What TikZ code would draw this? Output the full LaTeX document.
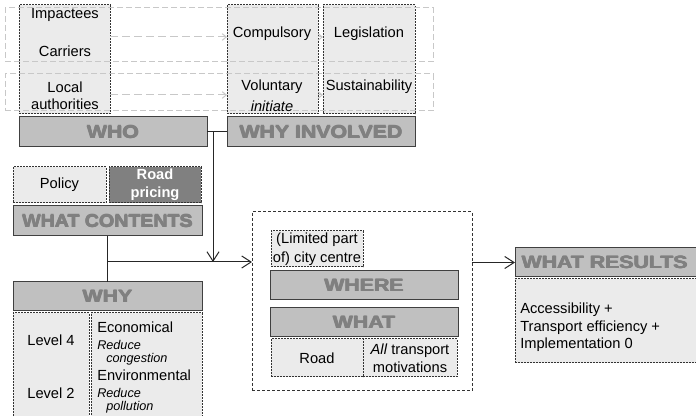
\documentclass[tikz,border=0pt]{standalone}
\usepackage{fontspec}
\setmainfont{Liberation Sans}
\newfontfamily\hdrfont[FakeStretch=1.2]{Liberation Sans}
\usetikzlibrary{arrows.meta}
\definecolor{lightfill}{HTML}{EBEBEB}
\definecolor{barfill}{HTML}{C0C0C0}
\definecolor{hdrtext}{HTML}{808080}
\definecolor{darkfill}{HTML}{808080}
\definecolor{edge}{HTML}{404040}
\definecolor{faint}{HTML}{C8C8C8}
\newcommand\heavy[1]{\leavevmode\rlap{\kern0.7pt#1}\rlap{\kern0.35pt#1}\rlap{\raisebox{0.35pt}{\kern0.35pt#1}}#1\kern0.7pt}
\tikzset{
 base/.style={inner sep=0pt, outer sep=0pt, line width=0.75pt},
 bar/.style={base, draw=edge, fill=barfill, text=hdrtext, font=\hdrfont\bfseries\fontsize{13.3}{15}\selectfont},
 hdrtxt/.style={inner sep=0pt, text=hdrtext, font=\hdrfont\bfseries\fontsize{13.3}{15}\selectfont},
 dbox/.style={base, draw=black!80, fill=lightfill, dash pattern=on 1.5pt off 0.75pt},
 pricebox/.style={dbox, fill=darkfill},
 rowbox/.style={base, draw=faint, dash pattern=on 4.5pt off 2.25pt},
 framebox/.style={base, draw=black!80, dash pattern=on 2.25pt off 1.5pt},
 txt/.style={inner sep=0pt, font=\fontsize{11}{13.5}\selectfont},
 sm/.style={inner sep=0pt, font=\fontsize{9.5}{11}\selectfont\itshape},
 conn/.style={line width=0.75pt, draw=black!85},
 arr/.style={conn, -{Straight Barb[length=7pt,width=9pt]}},
 farr/.style={line width=0.75pt, draw=faint, dash pattern=on 6pt off 3pt, -{Straight Barb[length=3pt,width=5pt]}},
}
\newcommand\bx[7]{\node[#6, anchor=north west, minimum width={(#4-#2)*0.75pt}, minimum height={(#5-#3)*0.75pt}] (#1) at (#2,#3) {#7};}
\begin{document}
\begin{tikzpicture}[x=0.75pt,y=-0.75pt]
\useasboundingbox (0,0) rectangle (696,416);
% WHO / WHY INVOLVED columns
\bx{whocol}{19}{5}{110}{114}{dbox}{}
\bx{compcol}{227}{5}{318}{114}{dbox}{}
\bx{legcol}{323}{5}{415}{114}{dbox}{}
\bx{rowA}{5}{8}{433}{62}{rowbox}{}
\bx{rowB}{5}{74}{433}{111}{rowbox}{}
\coordinate (r1) at (0,37);
\coordinate (r2) at (0,95);
\draw[farr] (whocol.east |- r1) -- (compcol.west |- r1);
\draw[farr] (whocol.east |- r2) -- (compcol.west |- r2);
\draw[farr] (compcol.east |- r1) -- (legcol.west |- r1);
\draw[farr] (compcol.east |- r2) -- (legcol.west |- r2);
\node[txt] (t1) at (65,15) {Impactees};
\node[txt] (t2) at (65,51) {Carriers};
\node[txt] (t3) at (65,87) {Local};
\node[txt] (t4) at (65,104) {authorities};
\node[txt] (c1) at (272,34) {Compulsory};
\node[txt] (c2) at (272,87) {Voluntary};
\node[txt, font=\fontsize{11}{13}\selectfont\itshape] (c3) at (272,106) {initiate};
\node[txt] (l1) at (369,34) {Legislation};
\node[txt] (l2) at (369,87) {Sustainability};
\bx{who}{19}{117}{207}{147}{bar}{\heavy{WHO}}
\bx{whyinv}{227}{117}{415}{147}{bar}{\heavy{WHY INVOLVED}}
% WHAT CONTENTS
\bx{policy}{13}{167}{106}{203}{dbox,txt}{Policy}
\bx{pricing}{109}{167}{201}{203}{pricebox,txt,text=white,font=\bfseries\fontsize{11}{13.5}\selectfont,align=center}{Road\\pricing}
\bx{wc}{13}{206}{202}{236}{bar}{\scalebox{0.92}[1]{\heavy{WHAT CONTENTS}}}
% WHY
\bx{why}{13}{282}{202}{311}{bar}{\heavy{WHY}}
\bx{lvl}{13}{313}{89}{420}{dbox}{}
\bx{mot}{91}{313}{202}{420}{dbox}{}
\node[txt] (lv4) at (51,340) {Level 4};
\node[txt] (lv2) at (51,393) {Level 2};
\node[txt, anchor=west] (m1) at (97,327) {Economical};
\node[sm, anchor=west] (m2) at (97,345) {Reduce};
\node[sm, anchor=west] (m3) at (106,359) {congestion};
\node[txt, anchor=west] (m4) at (97,375) {Environmental};
\node[sm, anchor=west] (m5) at (97,393) {Reduce};
\node[sm, anchor=west] (m6) at (106,407) {pollution};
% WHERE / WHAT frame
\bx{frame}{252}{212}{472}{391}{framebox}{}
\bx{lim}{271}{231}{363}{267}{dbox,txt,align=center,font=\fontsize{11}{14}\selectfont}{(Limited part\\of) city centre}
\bx{where}{270}{271}{458}{300}{bar}{\heavy{WHERE}}
\bx{what}{270}{308}{458}{337}{bar}{\heavy{WHAT}}
\bx{road}{271}{339}{363}{377}{dbox,txt}{Road}
\bx{allt}{363}{339}{457}{377}{dbox,txt,align=center}{\textit{All} transport\\motivations}
% WHAT RESULTS
\bx{res}{515}{248}{720}{277}{bar}{}
\node[hdrtxt, anchor=west] (restitle) at (521,262.5) {\heavy{WHAT RESULTS}};
\bx{resbox}{515}{279}{720}{363}{dbox}{}
\node[txt, anchor=west, align=left, font=\fontsize{11}{13}\selectfont] (restext) at (520,327.5) {Accessibility +\\Transport efficiency +\\Implementation 0};
% connectors
\coordinate (j1) at (213,132);
\coordinate (j2) at (213,262);
\coordinate (j3) at (wc.south |- j2);
\draw[conn] (who.east) -- (whyinv.west);
\draw[arr] (j1) -- (j2);
\draw[conn] (wc.south) -- (why.north);
\draw[arr] (j3) -- (j3 -| frame.west);
\draw[arr] (res.west -| frame.east) -- (res.west);
\end{tikzpicture}
\end{document}
